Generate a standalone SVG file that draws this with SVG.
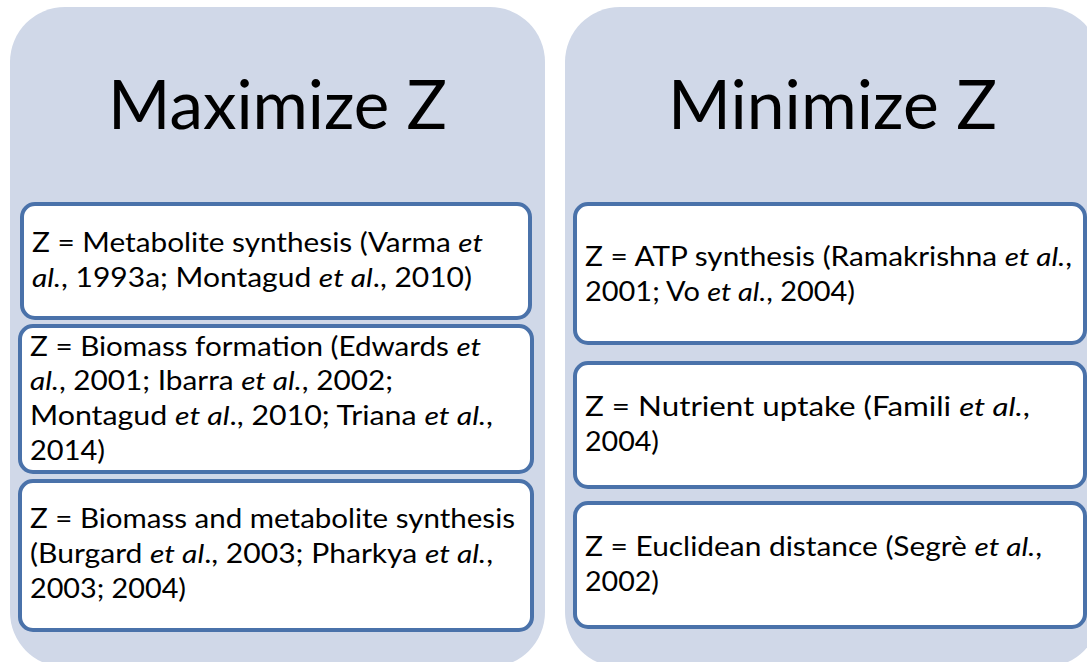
<svg xmlns="http://www.w3.org/2000/svg" width="1087" height="662" viewBox="0 0 1087 662">
<style>
.panel{fill:#d0d8e8;stroke:none}
.box{fill:#ffffff;stroke:#4a72aa;stroke-width:4}
.title{font-family:Lato,"Open Sans","Liberation Sans",sans-serif;font-size:68px;fill:#000}
.t{font-family:Lato,"Open Sans","Liberation Sans",sans-serif;font-size:26px;fill:#000}
.i{font-style:italic}
</style>
<rect x="0" y="0" width="1087" height="662" fill="#ffffff"/>
<g id="panel-max">
<rect class="panel" x="10" y="7" width="535" height="660" rx="55" ry="55"/>
<text class="title" x="108" y="129" textLength="339" lengthAdjust="spacingAndGlyphs">Maximize Z</text>
</g>
<g id="panel-min">
<rect class="panel" x="565" y="7" width="535" height="660" rx="55" ry="55"/>
<text class="title" x="668" y="129" textLength="329" lengthAdjust="spacingAndGlyphs">Minimize Z</text>
</g>
<g id="max-1">
<rect class="box" x="22" y="204" width="508" height="114" rx="13"/>
<text class="t" x="32" y="252" textLength="451" lengthAdjust="spacingAndGlyphs">Z = Metabolite synthesis (Varma <tspan class="i">et</tspan></text>
<text class="t" x="32" y="287" textLength="440" lengthAdjust="spacingAndGlyphs"><tspan class="i">al.</tspan>, 1993a; Montagud <tspan class="i">et al</tspan>., 2010)</text>
</g>
<g id="max-2">
<rect class="box" x="20" y="326" width="512" height="146" rx="13"/>
<text class="t" x="30" y="356" textLength="451" lengthAdjust="spacingAndGlyphs">Z = Biomass formation (Edwards <tspan class="i">et</tspan></text>
<text class="t" x="30" y="390" textLength="363" lengthAdjust="spacingAndGlyphs"><tspan class="i">al.</tspan>, 2001; Ibarra <tspan class="i">et al.</tspan>, 2002;</text>
<text class="t" x="30" y="425" textLength="463" lengthAdjust="spacingAndGlyphs">Montagud <tspan class="i">et al</tspan>., 2010; Triana <tspan class="i">et al.</tspan>,</text>
<text class="t" x="30" y="460" textLength="75" lengthAdjust="spacingAndGlyphs">2014)</text>
</g>
<g id="max-3">
<rect class="box" x="20" y="481" width="512" height="149" rx="13"/>
<text class="t" x="30" y="528" textLength="485" lengthAdjust="spacingAndGlyphs">Z = Biomass and metabolite synthesis</text>
<text class="t" x="30" y="563" textLength="463" lengthAdjust="spacingAndGlyphs">(Burgard <tspan class="i">et al</tspan>., 2003; Pharkya <tspan class="i">et al.</tspan>,</text>
<text class="t" x="30" y="598" textLength="156" lengthAdjust="spacingAndGlyphs">2003; 2004)</text>
</g>
<g id="min-1">
<rect class="box" x="575" y="204" width="510" height="139" rx="13"/>
<text class="t" x="585" y="266" textLength="487" lengthAdjust="spacingAndGlyphs">Z = ATP synthesis (Ramakrishna <tspan class="i">et al.</tspan>,</text>
<text class="t" x="585" y="301" textLength="270" lengthAdjust="spacingAndGlyphs">2001; Vo <tspan class="i">et al.</tspan>, 2004)</text>
</g>
<g id="min-2">
<rect class="box" x="575" y="363" width="510" height="124" rx="13"/>
<text class="t" x="585" y="416" textLength="445" lengthAdjust="spacingAndGlyphs">Z = Nutrient uptake (Famili <tspan class="i">et al.</tspan>,</text>
<text class="t" x="585" y="451" textLength="74" lengthAdjust="spacingAndGlyphs">2004)</text>
</g>
<g id="min-3">
<rect class="box" x="575" y="503" width="510" height="124" rx="13"/>
<text class="t" x="585" y="556" textLength="457" lengthAdjust="spacingAndGlyphs">Z = Euclidean distance (Segrè <tspan class="i">et al.</tspan>,</text>
<text class="t" x="585" y="591" textLength="74" lengthAdjust="spacingAndGlyphs">2002)</text>
</g>
<g id="connectors"/>
</svg>
